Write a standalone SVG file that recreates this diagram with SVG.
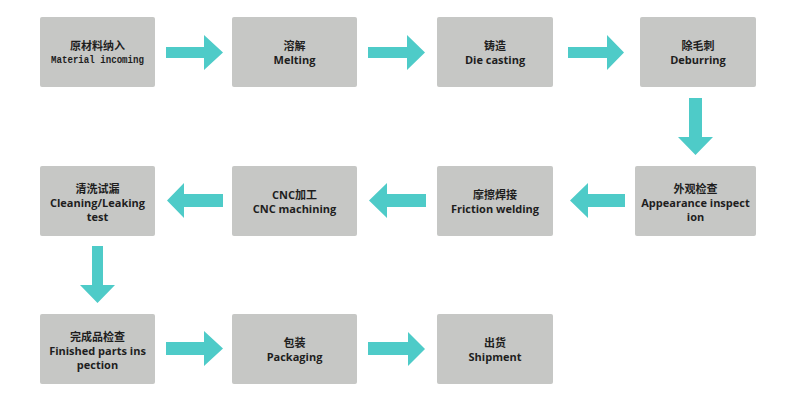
<svg xmlns="http://www.w3.org/2000/svg" width="800" height="400" viewBox="0 0 800 400">
<style>
.box{fill:#c6c7c5}
.t{font-family:"Open Sans","Noto Sans CJK SC",sans-serif;font-weight:700;font-size:11px;fill:#1e1e1e;text-anchor:middle}
.m{font-family:"Liberation Mono",monospace;font-weight:700;font-size:10px;fill:#1e1e1e;text-anchor:middle}
.a{fill:#4ecbc8}
</style>
<rect width="800" height="400" fill="#ffffff"/>
<g id="n1"><rect class="box" x="40" y="17" width="115" height="70" rx="2"/><text class="t" x="97.5" y="50">原材料纳入</text><text class="m" x="97.5" y="63" textLength="93" lengthAdjust="spacingAndGlyphs">Material incoming</text></g>
<g id="n2"><rect class="box" x="232" y="17" width="125" height="70" rx="2"/><text class="t" x="294.5" y="50">溶解</text><text class="t" x="294.5" y="64">Melting</text></g>
<g id="n3"><rect class="box" x="437" y="17" width="116" height="70" rx="2"/><text class="t" x="495" y="50">铸造</text><text class="t" x="495" y="64">Die casting</text></g>
<g id="n4"><rect class="box" x="640" y="17" width="116" height="70" rx="2"/><text class="t" x="698" y="50">除毛刺</text><text class="t" x="698" y="64">Deburring</text></g>
<g id="n5"><rect class="box" x="635" y="166" width="121" height="70" rx="2"/><text class="t" x="695.5" y="193">外观检查</text><text class="t" x="695.5" y="207">Appearance inspect</text><text class="t" x="695.5" y="221">ion</text></g>
<g id="n6"><rect class="box" x="437" y="166" width="116" height="70" rx="2"/><text class="t" x="495" y="199">摩擦焊接</text><text class="t" x="495" y="213">Friction welding</text></g>
<g id="n7"><rect class="box" x="232" y="166" width="125" height="70" rx="2"/><text class="t" x="294.5" y="199">CNC加工</text><text class="t" x="294.5" y="213">CNC machining</text></g>
<g id="n8"><rect class="box" x="40" y="166" width="115" height="70" rx="2"/><text class="t" x="97.5" y="193">清洗试漏</text><text class="t" x="97.5" y="207">Cleaning/Leaking</text><text class="t" x="97.5" y="221">test</text></g>
<g id="n9"><rect class="box" x="40" y="314" width="115" height="70" rx="2"/><text class="t" x="97.5" y="341">完成品检查</text><text class="t" x="97.5" y="355">Finished parts ins</text><text class="t" x="97.5" y="369">pection</text></g>
<g id="n10"><rect class="box" x="232" y="314" width="125" height="70" rx="2"/><text class="t" x="294.5" y="347">包装</text><text class="t" x="294.5" y="361">Packaging</text></g>
<g id="n11"><rect class="box" x="437" y="314" width="116" height="70" rx="2"/><text class="t" x="495" y="347">出货</text><text class="t" x="495" y="361">Shipment</text></g>
<g id="connectors">
<polygon class="a" points="166,47 204,47 204,35 223,52.5 204,70 204,58 166,58"/>
<polygon class="a" points="368,47 407,47 407,35 425,52.5 407,70 407,58 368,58"/>
<polygon class="a" points="568,47 607,47 607,35 624,52.5 607,70 607,58 568,58"/>
<polygon class="a" points="689,98 702,98 702,137 713,137 695.5,155 678,137 689,137"/>
<polygon class="a" points="625,194 588,194 588,183 570,200.5 588,218 588,207 625,207"/>
<polygon class="a" points="426,194 387,194 387,183 369,200.5 387,218 387,207 426,207"/>
<polygon class="a" points="223,194 184,194 184,183 167,200.5 184,218 184,207 223,207"/>
<polygon class="a" points="92,246 103,246 103,285 115,285 97.5,303 80,285 92,285"/>
<polygon class="a" points="166,342 204,342 204,331 223,348.5 204,366 204,355 166,355"/>
<polygon class="a" points="368,342 408,342 408,332 425,349 408,366 408,355 368,355"/>
</g>
</svg>
